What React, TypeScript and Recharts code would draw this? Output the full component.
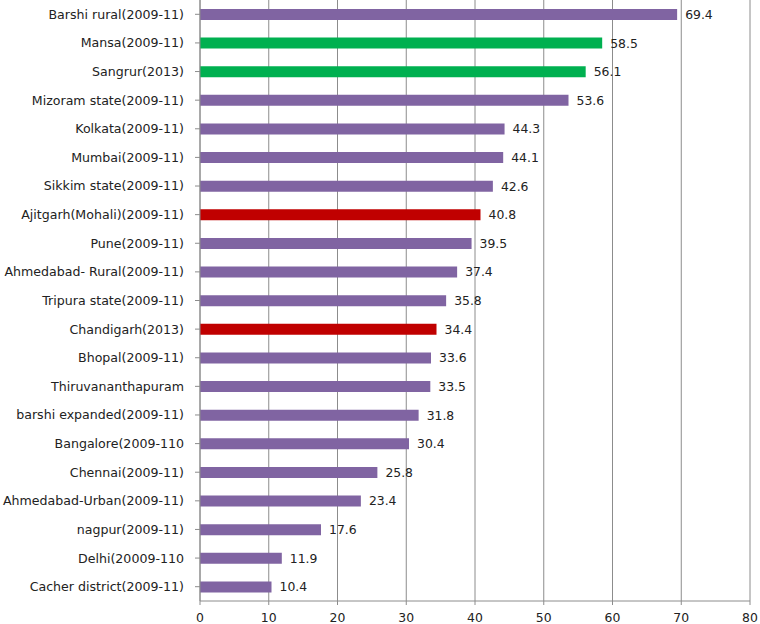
import { BarChart, Bar, XAxis, YAxis, CartesianGrid, Cell, LabelList } from "recharts"

const places = [
  "Barshi rural(2009-11)",
  "Mansa(2009-11)",
  "Sangrur(2013)",
  "Mizoram state(2009-11)",
  "Kolkata(2009-11)",
  "Mumbai(2009-11)",
  "Sikkim state(2009-11)",
  "Ajitgarh(Mohali)(2009-11)",
  "Pune(2009-11)",
  "Ahmedabad- Rural(2009-11)",
  "Tripura state(2009-11)",
  "Chandigarh(2013)",
  "Bhopal(2009-11)",
  "Thiruvananthapuram",
  "barshi expanded(2009-11)",
  "Bangalore(2009-110",
  "Chennai(2009-11)",
  "Ahmedabad-Urban(2009-11)",
  "nagpur(2009-11)",
  "Delhi(20009-110",
  "Cacher district(2009-11)",
]

const values = [69.4, 58.5, 56.1, 53.6, 44.3, 44.1, 42.6, 40.8, 39.5, 37.4, 35.8, 34.4, 33.6, 33.5, 31.8, 30.4, 25.8, 23.4, 17.6, 11.9, 10.4]

// p = purple (other sites), g = green (Punjab rural), r = red (Punjab urban)
const groups = ["p", "g", "g", "p", "p", "p", "p", "r", "p", "p", "p", "r", "p", "p", "p", "p", "p", "p", "p", "p", "p"]

const xTicks = [0, 10, 20, 30, 40, 50, 60, 70, 80]

const colors: Record<string, string> = { p: "#8064A2", g: "#00B050", r: "#C00000" }

const data = places.map((name, i) => ({ name, value: values[i], group: groups[i] }))

const font = "'DejaVu Sans', Verdana, sans-serif"

export default function App() {
  return (
    <div style={{ position: "absolute", left: 0, top: 0 }}>
      <BarChart
        width={760}
        height={624}
        data={data}
        layout="vertical"
        margin={{ top: 0, right: 10, left: 0, bottom: 0 }}
        barSize={11}
      >
        <CartesianGrid horizontal={false} stroke="#8c8c8c" />
        <XAxis
          type="number"
          domain={[0, 80]}
          ticks={xTicks}
          height={23}
          tickSize={4}
          tickMargin={8}
          stroke="#8c8c8c"
          tick={{ fontSize: 12.4, fill: "#222", fontFamily: font }}
        />
        <YAxis
          type="category"
          dataKey="name"
          width={200}
          tickSize={5}
          tickMargin={11}
          stroke="#8c8c8c"
          interval={0}
          tick={{ fontSize: 12.6, fill: "#222", fontFamily: font }}
        />
        <Bar dataKey="value" isAnimationActive={false}>
          {data.map((d, i) => (
            <Cell key={i} fill={colors[d.group]} />
          ))}
          <LabelList dataKey="value" position="right" offset={8} fill="#222" fontSize={12.4} fontFamily={font} />
        </Bar>
      </BarChart>
    </div>
  )
}
